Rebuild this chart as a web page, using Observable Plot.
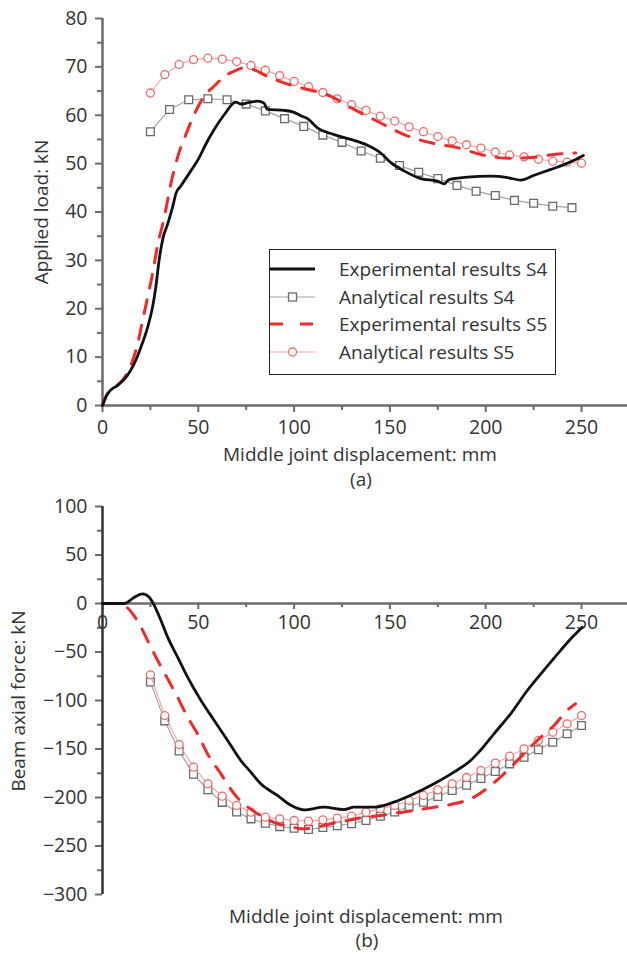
<!DOCTYPE html>
<html>
<head>
<meta charset="utf-8">
<script src="https://cdn.jsdelivr.net/npm/d3@7"></script>
<script src="https://cdn.jsdelivr.net/npm/@observablehq/plot@0.6"></script>
<style>
  body { margin: 0; background: #fff; }
  #wrap { position: relative; width: 627px; height: 956px; overflow: hidden; font-family: "Open Sans", sans-serif; color: #333; }
  #wrap svg { position: absolute; left: 0; }
  .lbl { position: absolute; font-size: 19px; line-height: 19px; white-space: nowrap; transform: translateX(-50%); color: #333; }
  .ylbl { position: absolute; font-size: 19px; line-height: 19px; white-space: nowrap; transform: translate(-50%, -50%) rotate(-90deg); color: #333; }
  #legend { position: absolute; left: 269px; top: 249px; width: 285px; height: 124px; border: 1.5px solid #222; background: #fff; }
  .lrow { position: absolute; left: 0; height: 20px; width: 285px; }
  .lrow svg { position: absolute; left: 13px; top: 2px; }
  .lrow span { position: absolute; left: 69px; top: 0; font-size: 19px; line-height: 20px; white-space: nowrap; color: #333; }
</style>
</head>
<body>
<div id="wrap"></div>
<script>
// ---------- Data: (a) Applied load vs middle joint displacement ----------
const expS4LoadX = [0,2.2,4.3,7.8,13,16.5,20,23.5,26.1,27.8,29.5,31.5,34,36.5,38.5,40.9,46.1,50.4,53.9,58.2,63.5,69.6,72.2,76,80.9,84.3,86.1,94.8,100,103.5,107,112.2,120.9,129.6,138.3,145.2,150.5,157.4,166.1,174.8,178.3,180.9,190.5,202.7,211.4,218.3,225.3,234,240.9,246.1,251];
const expS4LoadY = [0,2.1,3.2,4.1,6.2,8.6,12,16.1,20.3,24.4,29.9,34.5,37.5,40.9,44,45.4,48.5,51.2,54,57,60.1,62.7,62.3,62.6,62.9,62.5,61.2,61,60.6,59.9,59.3,57.4,56,55,53.8,52.2,50.2,48.5,46.9,46.4,45.8,46.7,47.2,47.4,47.1,46.6,47.6,48.8,49.8,50.7,51.7];

const anaS4LoadX = [25,35,45,55,65,75,85,95,105,115,125,135,145,155,165,175,185,195,205,215,225,235,245];
const anaS4LoadY = [56.6,61.2,63.2,63.4,63.2,62.3,60.9,59.3,57.7,55.9,54.4,52.6,51.1,49.6,48.2,46.9,45.5,44.3,43.4,42.4,41.8,41.2,40.9];

const expS5LoadX = [0,0.8,4,8,12.2,15.7,18.3,20.9,23.5,26.1,28.7,32.2,35.6,39.1,43.5,47.8,53,58.2,63.5,68.7,73.9,79.1,86.1,94.8,103.5,119.2,131.3,145.2,157.4,171.3,185.3,198.3,212.2,225.3,235.7,241.8,247];
const expS5LoadY = [0,1,3.2,4.3,6.2,9.3,12.7,17.5,22.3,27.2,33,38.8,45.7,51.2,56,60.1,63.9,66,68,69.1,69.8,69.4,68,66.7,65.7,63.9,61.2,58.4,56,54.3,53.3,51.8,51.1,51.3,51.9,52.1,52.2];

const anaS5LoadX = [25,32.5,40,47.5,55,62.5,70,77.5,85,92.5,100,107.5,115,122.5,130,137.5,145,152.5,160,167.5,175,182.5,190,197.5,205,212.5,220,227.5,235,242.5,250];
const anaS5LoadY = [64.6,68.4,70.5,71.5,71.8,71.6,71.1,70.3,69.3,68.2,67.0,65.9,64.7,63.4,62.2,61.0,59.8,58.8,57.6,56.6,55.6,54.7,53.9,53.2,52.4,51.8,51.4,50.9,50.5,50.3,50.1];

// ---------- Data: (b) Beam axial force vs middle joint displacement ----------
const expS4AxialX = [0,11.3,13.1,16.6,21,24.4,27,30.5,34,39.2,44.4,51.4,58.3,65.3,72.2,77.4,82.6,91.3,98.3,105.2,115.6,126,131.3,141.7,152.1,162.6,173,183.4,192.1,196.5,204.3,213,221.7,230.3,239,246,250.4];
const expS4AxialY = [0,0,1.4,6.5,10,6.5,-2,-17.5,-34.7,-55.3,-76,-100,-120.6,-141.2,-161.9,-173.9,-185.9,-197.9,-208,-212.7,-210,-212.4,-210,-210,-204.8,-196.2,-185.9,-173.9,-161.9,-153,-134.3,-113.7,-89.7,-69,-48.5,-33,-24.4];

const expS5AxialX = [0,6,11.3,15.7,20.1,24.4,28.8,34,39.2,44.4,49.6,54.8,61.8,68.7,74.8,82.6,91.3,98.3,103.5,110.4,119.1,127.8,136.5,145.2,153.9,162.6,173,183.4,192.1,202.6,211.3,219.9,226.9,235.6,242.5,246.9];
const expS5AxialY = [0,0,-2,-10.6,-24.4,-41.6,-58.8,-77.6,-96.6,-117.2,-134.3,-155,-175.6,-196.2,-208.2,-218.6,-227.1,-229.9,-232.3,-231.2,-227.1,-223.7,-220.3,-218.6,-215.8,-213.4,-210,-206.5,-201.4,-187.6,-172.2,-155,-141.2,-125.8,-110.3,-103.4];

const anaAxialX = [25,32.5,40,47.5,55,62.5,70,77.5,85,92.5,100,107.5,115,122.5,130,137.5,145,152.5,160,167.5,175,182.5,190,197.5,205,212.5,220,227.5,235,242.5,250];
const anaS4AxialY = [-81,-121,-152,-176,-192,-205,-215,-222,-226.5,-230,-231.6,-233,-231,-229,-227,-223.7,-219.3,-215,-209.3,-204.8,-199,-192.8,-187.3,-180.3,-173.2,-165.3,-158.4,-150.8,-143,-134.3,-125.8];
const anaS5AxialY = [-73.5,-115.5,-145.4,-168.7,-185.9,-198.6,-208.2,-215.1,-220.3,-222,-223.7,-224.4,-223,-221.3,-219.3,-215.1,-211.7,-208.2,-203.1,-197.9,-192.1,-185.9,-179.4,-172.2,-164.6,-157.4,-149.8,-141.2,-132.7,-124,-115.5];

// ---------- Ticks & labels ----------
const xMajor = [0,50,100,150,200,250];
const xMinor = [25,75,125,175,225];
const yLoadMajor = [0,10,20,30,40,50,60,70,80];
const yLoadMinor = [5,15,25,35,45,55,65,75];
const yAxialMajor = [100,50,0,-50,-100,-150,-200,-250,-300];
const yAxialMinor = [75,25,-25,-75,-125,-175,-225,-275];
const xTitle = "Middle joint displacement: mm";
const yTitleA = "Applied load: kN";
const yTitleB = "Beam axial force: kN";
const seriesNames = ["Experimental results S4","Analytical results S4","Experimental results S5","Analytical results S5"];

const rows = (xs, ys) => xs.map((x, i) => ({x, y: ys[i]}));

// ---------- Styles ----------
const AX = "#6b6b6b";
const C_EXP4 = "#111111", C_ANA4_LINE = "#a3a3a3", C_ANA4 = "#6a6a6a";
const C_EXP5 = "#ee2b2b", C_ANA5_LINE = "#f5a5a5", C_ANA5 = "#f06a6a";
const FONT = '"Open Sans", sans-serif';
const fmt = d3.format("d");

function seriesMarks(e4, a4, e5, a5) {
  return [
    Plot.line(a4, {x: "x", y: "y", stroke: C_ANA4_LINE, strokeWidth: 1.2}),
    Plot.dot(a4, {x: "x", y: "y", symbol: "square", r: 4.4, stroke: C_ANA4, strokeWidth: 1.3, fill: "white"}),
    Plot.line(a5, {x: "x", y: "y", stroke: C_ANA5_LINE, strokeWidth: 1.2}),
    Plot.dot(a5, {x: "x", y: "y", symbol: "circle", r: 4, stroke: C_ANA5, strokeWidth: 1.3, fill: "white"}),
    Plot.line(e5, {x: "x", y: "y", stroke: C_EXP5, strokeWidth: 3, strokeDasharray: "14,12", curve: "monotone-x"}),
    Plot.line(e4, {x: "x", y: "y", stroke: C_EXP4, strokeWidth: 2.8, curve: "monotone-x"})
  ];
}

const wrap = document.getElementById("wrap");

// ---------- (a) ----------
const H1 = 490, MT1 = 18, MB1 = 85;
const chartA = Plot.plot({
  width: 627, height: H1,
  marginTop: MT1, marginBottom: MB1, marginLeft: 102, marginRight: 0,
  x: {domain: [0, 274]},
  y: {domain: [0, 80]},
  style: {fontFamily: FONT, fontSize: "19.5px", color: "#333", background: "transparent", overflow: "visible"},
  marks: [
    Plot.axisY(yLoadMajor, {tickSize: 7, tickPadding: 8, stroke: AX, strokeWidth: 2, tickFormat: fmt, label: null, fill: "#333"}),
    Plot.axisY(yLoadMinor, {tickSize: 5, stroke: AX, strokeWidth: 2, tickFormat: () => "", label: null}),
    Plot.axisX(xMajor, {tickSize: 7, tickPadding: 8, stroke: AX, strokeWidth: 2, tickFormat: fmt, label: null, fill: "#333"}),
    Plot.axisX(xMinor, {tickSize: 5, stroke: AX, strokeWidth: 2, tickFormat: () => "", label: null}),
    Plot.ruleY([0], {stroke: AX, strokeWidth: 2.5}),
    Plot.ruleX([0], {stroke: AX, strokeWidth: 2.5}),
    ...seriesMarks(rows(expS4LoadX, expS4LoadY), rows(anaS4LoadX, anaS4LoadY), rows(expS5LoadX, expS5LoadY), rows(anaS5LoadX, anaS5LoadY))
  ]
});
chartA.style.top = "0px";
wrap.appendChild(chartA);

// ---------- (b) ----------
const H2 = 466, MT2 = 16, MB2 = 62;
const yDomB = [-300, 100];
const innerB = H2 - MT2 - MB2;
const zeroShift = -innerB * (0 - yDomB[0]) / (yDomB[1] - yDomB[0]);
const chartB = Plot.plot({
  width: 627, height: H2,
  marginTop: MT2, marginBottom: MB2, marginLeft: 102, marginRight: 0,
  x: {domain: [0, 274]},
  y: {domain: yDomB},
  style: {fontFamily: FONT, fontSize: "19.5px", color: "#333", background: "transparent", overflow: "visible"},
  marks: [
    Plot.axisY(yAxialMajor, {tickSize: 7, tickPadding: 8, stroke: AX, strokeWidth: 2, tickFormat: fmt, label: null, fill: "#333"}),
    Plot.axisY(yAxialMinor, {tickSize: 5, stroke: AX, strokeWidth: 2, tickFormat: () => "", label: null}),
    Plot.axisX(xMajor, {tickSize: 6, tickPadding: 6, dy: zeroShift, stroke: AX, strokeWidth: 2, tickFormat: fmt, label: null, fill: "#333"}),
    Plot.axisX(xMinor, {tickSize: 4, dy: zeroShift, stroke: AX, strokeWidth: 2, tickFormat: () => "", label: null}),
    Plot.ruleY([0], {stroke: AX, strokeWidth: 2.5}),
    Plot.ruleX([0], {stroke: "#333", strokeWidth: 2.5}),
    ...seriesMarks(rows(expS4AxialX, expS4AxialY), rows(anaAxialX, anaS4AxialY), rows(expS5AxialX, expS5AxialY), rows(anaAxialX, anaS5AxialY))
  ]
});
chartB.style.top = "490px";
wrap.appendChild(chartB);

// ---------- Titles / captions ----------
function addDiv(cls, text, left, top) {
  const d = document.createElement("div");
  d.className = cls; d.textContent = text;
  d.style.left = left + "px"; d.style.top = top + "px";
  wrap.appendChild(d);
}
addDiv("lbl", xTitle, 360, 445);
addDiv("lbl", "(a)", 361, 470);
addDiv("ylbl", yTitleA, 41, 212);
addDiv("lbl", xTitle, 366, 907);
addDiv("lbl", "(b)", 367, 931);
addDiv("ylbl", yTitleB, 18, 701);

// ---------- Legend ----------
const legend = document.createElement("div");
legend.id = "legend";
const swatches = [
  `<line x1="0" y1="8" x2="45" y2="8" stroke="${C_EXP4}" stroke-width="3"/>`,
  `<line x1="0" y1="8" x2="45" y2="8" stroke="${C_ANA4_LINE}" stroke-width="1.2"/><rect x="18.5" y="4" width="8" height="8" fill="white" stroke="${C_ANA4}" stroke-width="1.3"/>`,
  `<line x1="0" y1="8" x2="45" y2="8" stroke="${C_EXP5}" stroke-width="3" stroke-dasharray="13,17"/>`,
  `<line x1="0" y1="8" x2="45" y2="8" stroke="${C_ANA5_LINE}" stroke-width="1.2"/><circle cx="22.5" cy="8" r="4" fill="white" stroke="${C_ANA5}" stroke-width="1.3"/>`
];
const rowCenters = [19, 47, 74, 102];
seriesNames.forEach((name, i) => {
  const r = document.createElement("div");
  r.className = "lrow";
  r.style.top = (rowCenters[i] - 10) + "px";
  r.innerHTML = `<svg width="45" height="16">${swatches[i]}</svg><span>${name}</span>`;
  legend.appendChild(r);
});
wrap.appendChild(legend);
</script>
</body>
</html>
